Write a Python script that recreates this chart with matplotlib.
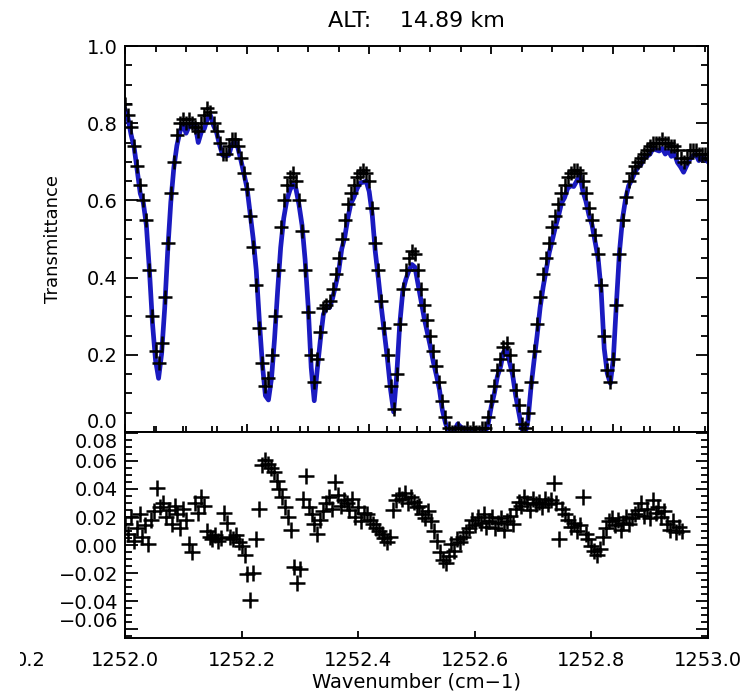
import matplotlib
matplotlib.use("Agg")
import matplotlib.pyplot as plt
import matplotlib.transforms as mtransforms
from matplotlib.ticker import MultipleLocator, NullFormatter
import numpy as np

# spectral grid (cm-1)
wn_start = 1252.0
wn_step = 0.005

observed = [
    0.85, 0.82, 0.79, 0.74, 0.69, 0.64, 0.60, 0.55, 0.42, 0.30,
    0.21, 0.18, 0.23, 0.35, 0.49, 0.62, 0.70, 0.77, 0.80, 0.81,
    0.80, 0.81, 0.80, 0.79, 0.78, 0.80, 0.82, 0.84, 0.83, 0.80,
    0.78, 0.75, 0.72, 0.72, 0.74, 0.76, 0.76, 0.74, 0.71, 0.67,
    0.63, 0.56, 0.48, 0.38, 0.27, 0.18, 0.12, 0.14, 0.20, 0.30,
    0.42, 0.53, 0.60, 0.64, 0.66, 0.67, 0.65, 0.60, 0.52, 0.42,
    0.31, 0.20, 0.13, 0.19, 0.26, 0.32, 0.33, 0.34, 0.37, 0.41,
    0.45, 0.50, 0.55, 0.59, 0.62, 0.64, 0.66, 0.67, 0.68, 0.67,
    0.65, 0.58, 0.49, 0.42, 0.34, 0.27, 0.20, 0.12, 0.06, 0.15,
    0.28, 0.37, 0.42, 0.45, 0.47, 0.46, 0.42, 0.37, 0.33, 0.29,
    0.25, 0.21, 0.17, 0.13, 0.08, 0.04, 0.01, 0.00, 0.00, 0.01,
    0.00, 0.00, 0.01, 0.00, 0.01, 0.00, 0.00, 0.01, 0.01, 0.04,
    0.08, 0.12, 0.16, 0.19, 0.22, 0.23, 0.20, 0.16, 0.11, 0.07,
    0.02, 0.01, 0.05, 0.13, 0.21, 0.28, 0.35, 0.41, 0.45, 0.49,
    0.53, 0.56, 0.59, 0.62, 0.64, 0.66, 0.67, 0.68, 0.68, 0.67,
    0.65, 0.62, 0.58, 0.55, 0.51, 0.46, 0.38, 0.25, 0.16, 0.13,
    0.19, 0.33, 0.46, 0.55, 0.61, 0.65, 0.67, 0.69, 0.70, 0.71,
    0.72, 0.73, 0.74, 0.75, 0.75, 0.75, 0.76, 0.75, 0.75, 0.74,
    0.74, 0.73, 0.71, 0.70, 0.71, 0.73, 0.73, 0.73, 0.72, 0.72,
    0.72, 0.71,
]

# observed minus fitted transmittance
residual = [
    0.015, 0.008, 0.020, 0.003, 0.012, 0.022, 0.006, 0.014, 0.001, 0.018,
    0.024, 0.041, 0.027, 0.030, 0.020, 0.025, 0.015, 0.028, 0.022, 0.012,
    0.026, 0.018, 0.001, -0.005, 0.030, 0.023, 0.034, 0.028, 0.010, 0.006,
    0.004, 0.007, 0.003, 0.005, 0.023, 0.016, 0.006, 0.004, 0.007, 0.002,
    -0.001, -0.007, -0.021, -0.039, -0.020, 0.004, 0.026, 0.057, 0.061, 0.058,
    0.055, 0.052, 0.046, 0.040, 0.034, 0.027, 0.020, 0.011, -0.016, -0.027,
    -0.017, 0.033, 0.049, 0.027, 0.022, 0.015, 0.008, 0.018, 0.024, 0.030,
    0.034, 0.026, 0.045, 0.036, 0.028, 0.032, 0.030, 0.025, 0.033, 0.020,
    0.027, 0.017, 0.023, 0.022, 0.018, 0.015, 0.012, 0.010, 0.008, 0.005,
    0.002, 0.006, 0.025, 0.032, 0.036, 0.033, 0.037, 0.030, 0.034, 0.031,
    0.027, 0.028, 0.022, 0.019, 0.024, 0.017, 0.010, 0.003, -0.005, -0.011,
    -0.013, -0.008, 0.001, -0.004, 0.004, 0.002, 0.006, 0.009, 0.012, 0.018,
    0.014, 0.020, 0.016, 0.022, 0.013, 0.017, 0.020, 0.012, 0.016, 0.019,
    0.011, 0.017, 0.021, 0.015, 0.026, 0.031, 0.028, 0.034, 0.030, 0.025,
    0.033, 0.029, 0.031, 0.027, 0.033, 0.029, 0.032, 0.044, 0.030, 0.004,
    0.026, 0.022, 0.018, 0.013, 0.016, 0.010, 0.014, 0.034, 0.008, 0.004,
    -0.001, -0.004, -0.007, -0.003, 0.006, 0.012, 0.017, 0.019, 0.014, 0.018,
    0.011, 0.016, 0.020, 0.015, 0.019, 0.022, 0.025, 0.030, 0.021, 0.026,
    0.019, 0.032, 0.023, 0.027, 0.020, 0.024, 0.015, 0.011, 0.017, 0.009,
    0.013, 0.010,
]

top_yticks = [0.0, 0.2, 0.4, 0.6, 0.8, 1.0]
top_ylabels = ["0.0", "0.2", "0.4", "0.6", "0.8", "1.0"]
res_yticks = [-0.06, -0.04, -0.02, 0.00, 0.02, 0.04, 0.06, 0.08]
res_ylabels = ["\u22120.06", "\u22120.04", "\u22120.02", "0.00", "0.02", "0.04", "0.06", "0.08"]
xticks = [1252.0, 1252.2, 1252.4, 1252.6, 1252.8, 1253.0]
xlabels = ["1252.0", "1252.2", "1252.4", "1252.6", "1252.8", "1253.0"]

W, H = 753, 694
BLUE = "#1a1ac0"
FS = 14

wn = wn_start + wn_step * np.arange(len(observed))
obs = np.array(observed)
res = np.array(residual)
model = obs - res

fig = plt.figure(figsize=(W / 100, H / 100), dpi=100)
fig.patch.set_facecolor("white")


def px_rect(x0, y0, x1, y1):
    return [x0 / W, 1 - y1 / H, (x1 - x0) / W, (y1 - y0) / H]


ax1 = fig.add_axes(px_rect(125, 46, 708, 432))
ax2 = fig.add_axes(px_rect(125, 432, 708, 638))

for ax in (ax1, ax2):
    for sp in ax.spines.values():
        sp.set_linewidth(1.4)

# --- top panel: transmittance ---
ax1.plot(wn, model, color=BLUE, lw=3.4, zorder=2)
ax1.plot(wn, obs, ls="none", marker="+", ms=10, mew=1.8, color="black", zorder=3)
ax1.set_xlim(wn[0], wn[-1])
ax1.set_ylim(0.0, 1.0)
ax1.xaxis.set_major_locator(MultipleLocator(0.2))
ax1.xaxis.set_minor_locator(MultipleLocator(0.05))
ax1.xaxis.set_major_formatter(NullFormatter())
ax1.set_yticks(top_yticks, ["" if v == 0.0 else s for v, s in zip(top_yticks, top_ylabels)])
ax1.yaxis.set_minor_locator(MultipleLocator(0.05))
ax1.tick_params(axis="x", which="major", direction="in", top=True, bottom=True, length=6, width=1.3)
ax1.tick_params(axis="x", which="minor", direction="in", top=True, bottom=True, length=4, width=1.3)
ax1.tick_params(axis="y", which="major", direction="in", left=True, right=True, length=9, width=1.3,
                labelsize=FS, pad=5)
ax1.tick_params(axis="y", which="minor", direction="in", left=True, right=True, length=5, width=1.3)
ax1.set_ylabel("Transmittance", fontsize=13, labelpad=18)
ax1.set_title("ALT:    14.89 km", fontsize=16, pad=14)

# --- bottom panel: residuals ---
ax2.plot(wn, res, ls="none", marker="+", ms=11, mew=1.8, color="black")
ax2.set_xlim(xticks[0], xticks[-1])
ax2.set_ylim(-0.0664, 0.0807)
ax2.set_xticks(xticks, xlabels)
ax2.set_yticks(res_yticks, ["" if v in (res_yticks[0], res_yticks[-1]) else s
                            for v, s in zip(res_yticks, res_ylabels)])
ax2.yaxis.set_minor_locator(MultipleLocator(0.005))
ax2.tick_params(axis="x", which="major", direction="in", length=5, width=1.3, labelsize=FS, pad=9)
ax2.tick_params(axis="y", which="major", direction="in", left=True, right=True, length=9, width=1.3,
                labelsize=FS, pad=5)
ax2.tick_params(axis="y", which="minor", direction="in", left=True, right=True, length=5, width=1.3)
ax2.set_xlabel("Wavenumber (cm\u22121)", fontsize=FS, labelpad=2)

sec = ax2.secondary_xaxis("top")
sec.xaxis.set_major_locator(MultipleLocator(0.2))
sec.xaxis.set_minor_locator(MultipleLocator(0.05))
sec.xaxis.set_major_formatter(NullFormatter())
sec.tick_params(which="both", direction="out", length=4, width=1.3)
sec.spines["top"].set_visible(False)


# squeezed end labels where the two panels meet
def side_label(ax, value, text, dy_px):
    tr = mtransforms.blended_transform_factory(ax.transAxes, ax.transData)
    tr = tr + mtransforms.ScaledTranslation(-7 / 100, dy_px / 100, fig.dpi_scale_trans)
    ax.text(0, value, text, transform=tr, ha="right", va="center", fontsize=FS)


side_label(ax1, top_yticks[0], top_ylabels[0], 9)
side_label(ax2, res_yticks[-1], res_ylabels[-1], -10)
side_label(ax2, res_yticks[0], res_ylabels[0], 8)

# stray, partly cut label at the far left
stray = fig.text(46 / W, 1 - 660 / H, "0.2", ha="right", va="center", fontsize=FS)
stray.set_clip_box(mtransforms.TransformedBbox(
    mtransforms.Bbox([[20 / W, 0], [1, 1]]), fig.transFigure))

fig.savefig("out.png", dpi=100)
